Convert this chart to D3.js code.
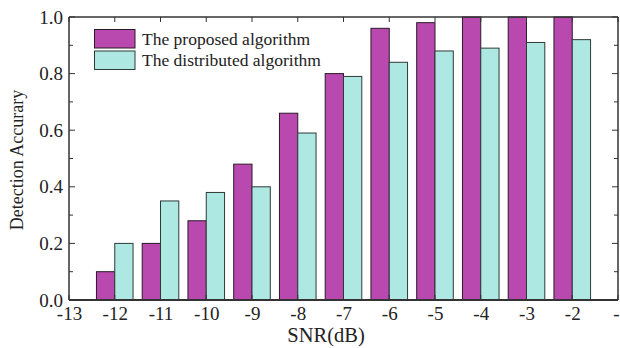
<!DOCTYPE html>
<html><head><meta charset="utf-8">
<script src="https://cdn.jsdelivr.net/npm/d3@7"></script>
<style>body{margin:0;background:#fff}svg{display:block}</style>
</head><body>
<svg id="c" width="620" height="348"></svg>
<script>
const snr = [-12,-11,-10,-9,-8,-7,-6,-5,-4,-3,-2];
const proposed = [0.10,0.20,0.28,0.48,0.66,0.80,0.96,0.98,1.00,1.00,1.00];
const distributed = [0.20,0.35,0.38,0.40,0.59,0.79,0.84,0.88,0.89,0.91,0.92];
const xTicks = [-13,-12,-11,-10,-9,-8,-7,-6,-5,-4,-3,-2,-1];
const yTicks = [0,0.2,0.4,0.6,0.8,1.0];
const seriesNames = ["The proposed algorithm","The distributed algorithm"];
const colors = ["#b949ae","#ade8e3"];

const svg = d3.select("#c");
const L=69,R=618,T=17,B=300;
const x = d3.scaleLinear().domain([-13,-1]).range([L,R]);
const y = d3.scaleLinear().domain([0,1]).range([B,T]);
const font = "'Liberation Serif','Times New Roman',serif";
const bw = 0.4;

// bars
const g = svg.append("g");
g.selectAll(".p").data(snr).join("rect")
  .attr("x",(d)=>x(d-bw)).attr("width",(d)=>x(d)-x(d-bw))
  .attr("y",(d,i)=>y(proposed[i])).attr("height",(d,i)=>y(0)-y(proposed[i]))
  .attr("fill",colors[0]).attr("stroke","#2a1a28").attr("stroke-width",1);
g.selectAll(".d").data(snr).join("rect")
  .attr("x",(d)=>x(d)).attr("width",(d)=>x(d+bw)-x(d))
  .attr("y",(d,i)=>y(distributed[i])).attr("height",(d,i)=>y(0)-y(distributed[i]))
  .attr("fill",colors[1]).attr("stroke","#2e3a38").attr("stroke-width",1);

// axes
const ac = "#333";
const minorY = d3.range(0,1.0001,0.1);
const left = d3.axisLeft(y).tickValues(yTicks).tickFormat(d3.format(".1f")).tickSize(0).tickPadding(6);
const gl = svg.append("g").attr("transform",`translate(${L},0)`).call(left);
gl.select(".domain").remove();
gl.selectAll("text").attr("font-family",font).attr("font-size",19).attr("fill","#222");
svg.append("g").selectAll("line").data(minorY).join("line")
  .attr("x1",L).attr("x2",(d)=>L+((Math.round(d*10)%2===0)?6:4)).attr("y1",d=>y(d)).attr("y2",d=>y(d)).attr("stroke",ac);
svg.append("g").selectAll("line").data(minorY).join("line")
  .attr("x1",R).attr("x2",(d)=>R-((Math.round(d*10)%2===0)?6:4)).attr("y1",d=>y(d)).attr("y2",d=>y(d)).attr("stroke",ac);
const bottom = d3.axisBottom(x).tickValues(xTicks).tickFormat(d=>d===-1?"-":d3.format("d")(d).replace("−","-")).tickSize(0).tickPadding(7);
const gb = svg.append("g").attr("transform",`translate(0,${B})`).call(bottom);
gb.select(".domain").remove();
gb.selectAll("text").attr("font-family",font).attr("font-size",19).attr("fill","#222");
gb.selectAll(".tick").filter(d=>d===-1).select("text").attr("text-anchor","end").attr("dx",1);
svg.append("g").selectAll("line").data(xTicks).join("line")
  .attr("x1",d=>x(d)).attr("x2",d=>x(d)).attr("y1",T).attr("y2",T+5).attr("stroke",ac);
svg.append("g").selectAll("line").data(xTicks).join("line")
  .attr("x1",d=>x(d)).attr("x2",d=>x(d)).attr("y1",B).attr("y2",B-5).attr("stroke",ac);
svg.append("line").attr("x1",L).attr("x2",R).attr("y1",T).attr("y2",T).attr("stroke",ac).attr("stroke-width",1.5);
svg.append("line").attr("x1",L).attr("x2",R).attr("y1",B).attr("y2",B).attr("stroke",ac).attr("stroke-width",2);
svg.append("line").attr("x1",L).attr("x2",L).attr("y1",T).attr("y2",B).attr("stroke",ac).attr("stroke-width",1.5);
svg.append("line").attr("x1",R).attr("x2",R).attr("y1",T).attr("y2",B).attr("stroke",ac).attr("stroke-width",1.5);

// titles
svg.append("text").attr("x",326).attr("y",341.5).attr("text-anchor","middle")
  .attr("font-family",font).attr("font-size",20.5).attr("fill","#222").text("SNR(dB)");
svg.append("text").attr("transform","translate(23,160) rotate(-90)").attr("text-anchor","middle")
  .attr("font-family",font).attr("font-size",18).attr("fill","#222").text("Detection Accurary");

// legend
const lg = svg.append("g");
seriesNames.forEach((n,i)=>{
  const yy = 29.5 + i*21.5;
  lg.append("rect").attr("x",94.5).attr("y",yy).attr("width",40.5).attr("height",18.5)
    .attr("fill",colors[i]).attr("stroke",i===0?"#2a1a28":"#2e3a38").attr("stroke-width",1);
  lg.append("text").attr("x",142).attr("y",yy+15).attr("font-family",font).attr("font-size",17.5)
    .attr("fill","#222").text(n);
});
</script>
</body></html>
